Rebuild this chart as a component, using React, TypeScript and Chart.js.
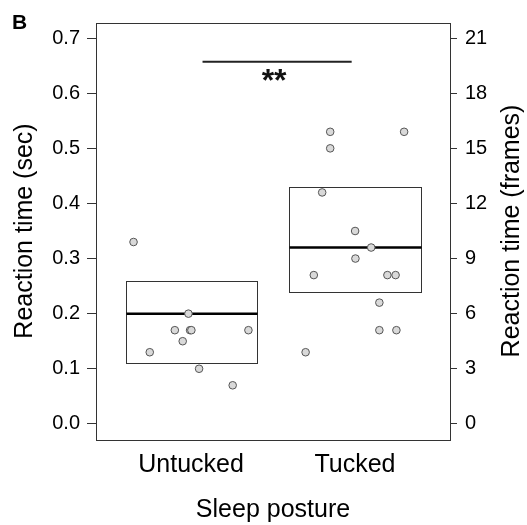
import React, { useEffect, useRef } from "react";
import { Chart, registerables } from "chart.js";

Chart.register(...registerables);

// ---------- data ----------
const categories = ["Untucked", "Tucked"];
const categoryPositions = [1, 2];

// jittered x positions and reaction times (sec)
const untuckedX = [0.649, 0.984, 0.901, 0.994, 1.002, 1.35, 0.949, 0.748, 1.049, 1.254];
const untuckedY = [0.33, 0.2, 0.17, 0.17, 0.17, 0.17, 0.15, 0.13, 0.1, 0.07];

const tuckedX = [1.849, 2.3, 1.849, 1.8, 2.001, 2.099, 2.003, 1.749, 2.198, 2.248, 2.149, 2.149, 2.253, 1.699];
const tuckedY = [0.53, 0.53, 0.5, 0.42, 0.35, 0.32, 0.3, 0.27, 0.27, 0.27, 0.22, 0.17, 0.17, 0.13];

// box summaries per category
const boxLower = [0.11, 0.24];
const boxMedian = [0.2, 0.32];
const boxUpper = [0.26, 0.43];

// axis ticks
const secTicks = [0, 0.1, 0.2, 0.3, 0.4, 0.5, 0.6, 0.7];
const frameTicks = [0, 3, 6, 9, 12, 15, 18, 21];
const framesPerSecond = 30;

// significance bracket
const sigFromTo = [1.07, 1.98];
const sigLevel = [0.657];
const sigLabel = "**";

const panelLabel = "B";
const ySecTitle = "Reaction time (sec)";
const yFrameTitle = "Reaction time (frames)";
const xTitle = "Sleep posture";

// ---------- config ----------
const FONT = "'Liberation Sans', Arial, Helvetica, sans-serif";
const Y_MIN = -0.028;
const Y_MAX = 0.728;
const X_MIN = 0.42;
const X_MAX = 2.58;
const BOX_HALF = 0.4;

const boxPlugin = {
  id: "boxes",
  beforeDatasetsDraw(chart: any) {
    const { ctx, scales, chartArea } = chart;
    const x = scales.x;
    const y = scales.y;
    ctx.save();
    // frame
    ctx.strokeStyle = "#333";
    ctx.lineWidth = 1;
    ctx.strokeRect(
      Math.round(chartArea.left) + 0.5,
      Math.round(chartArea.top) + 0.5,
      Math.round(chartArea.right - chartArea.left),
      Math.round(chartArea.bottom - chartArea.top)
    );
    categoryPositions.forEach((c, i) => {
      const l = Math.round(x.getPixelForValue(c - BOX_HALF)) + 0.5;
      const r = Math.round(x.getPixelForValue(c + BOX_HALF)) + 0.5;
      const t = Math.round(y.getPixelForValue(boxUpper[i])) + 0.5;
      const b = Math.round(y.getPixelForValue(boxLower[i])) + 0.5;
      ctx.fillStyle = "#ffffff";
      ctx.fillRect(l, t, r - l, b - t);
      ctx.strokeStyle = "#333";
      ctx.lineWidth = 1;
      ctx.strokeRect(l, t, r - l, b - t);
      const m = y.getPixelForValue(boxMedian[i]);
      ctx.strokeStyle = "#000";
      ctx.lineWidth = 2.5;
      ctx.beginPath();
      ctx.moveTo(l, m);
      ctx.lineTo(r, m);
      ctx.stroke();
    });
    // significance bar
    const sy = y.getPixelForValue(sigLevel[0]);
    const sx1 = x.getPixelForValue(sigFromTo[0]);
    const sx2 = x.getPixelForValue(sigFromTo[1]);
    ctx.strokeStyle = "#222";
    ctx.lineWidth = 2;
    ctx.beginPath();
    ctx.moveTo(sx1, sy);
    ctx.lineTo(sx2, sy);
    ctx.stroke();
    ctx.fillStyle = "#111";
    ctx.font = `bold 32px ${FONT}`;
    ctx.textAlign = "center";
    ctx.textBaseline = "alphabetic";
    ctx.fillText(sigLabel, (sx1 + sx2) / 2 - 3, sy + 29);
    ctx.restore();
  },
  afterDraw(chart: any) {
    const { ctx, chartArea } = chart;
    ctx.save();
    ctx.fillStyle = "#000";
    ctx.font = `bold 21px ${FONT}`;
    ctx.textAlign = "left";
    ctx.textBaseline = "alphabetic";
    ctx.fillText(panelLabel, 12, 28.5);
    // right axis title reading bottom-to-top
    const cy = (chartArea.top + chartArea.bottom) / 2;
    ctx.translate(512, cy);
    ctx.rotate(-Math.PI / 2);
    ctx.font = `25px ${FONT}`;
    ctx.textAlign = "center";
    ctx.textBaseline = "middle";
    ctx.fillText(yFrameTitle, 0, 0);
    ctx.restore();
  },
};

export default function App() {
  const ref = useRef<HTMLCanvasElement | null>(null);

  useEffect(() => {
    if (!ref.current) return;
    const pointStyle = {
      pointRadius: 3.8,
      pointBackgroundColor: "#d9d9d9",
      pointBorderColor: "#555",
      pointBorderWidth: 1,
      showLine: false,
    };
    const chart = new Chart(ref.current, {
      type: "scatter",
      data: {
        datasets: [
          {
            label: categories[0],
            data: untuckedX.map((v, i) => ({ x: v, y: untuckedY[i] })),
            ...pointStyle,
          },
          {
            label: categories[1],
            data: tuckedX.map((v, i) => ({ x: v, y: tuckedY[i] })),
            ...pointStyle,
          },
        ],
      },
      options: {
        responsive: false,
        animation: false,
        devicePixelRatio: 1,
        layout: { padding: { top: 22.7, left: 0, right: 0, bottom: 0 } },
        plugins: {
          legend: { display: false },
          tooltip: { enabled: false },
        },
        scales: {
          x: {
            type: "linear",
            min: X_MIN,
            max: X_MAX,
            afterBuildTicks: (s: any) => {
              s.ticks = categoryPositions.map((v) => ({ value: v }));
            },
            afterFit: (s: any) => {
              s.height = 85.7;
            },
            ticks: {
              callback: (v: any) => categories[Math.round(Number(v)) - 1],
              font: { family: FONT, size: 25 },
              color: "#000",
              padding: 3,
              autoSkip: false,
              maxRotation: 0,
            },
            grid: { display: false },
            border: { display: false },
            title: {
              display: true,
              text: xTitle,
              font: { family: FONT, size: 25 },
              color: "#000",
              padding: { top: 0, bottom: 0 },
            },
          },
          y: {
            type: "linear",
            position: "left",
            min: Y_MIN,
            max: Y_MAX,
            afterBuildTicks: (s: any) => {
              s.ticks = secTicks.map((v) => ({ value: v }));
            },
            afterFit: (s: any) => {
              s.width = 96;
            },
            ticks: {
              callback: (v: any) => Number(v).toFixed(1),
              font: { family: FONT, size: 20 },
              color: "#000",
              padding: 7,
            },
            grid: {
              display: true,
              drawOnChartArea: false,
              drawTicks: true,
              tickLength: 9,
              tickColor: "#333",
            },
            border: { display: false },
            title: {
              display: true,
              text: ySecTitle,
              font: { family: FONT, size: 25 },
              color: "#000",
              padding: { top: 10, bottom: 0 },
            },
          },
          y2: {
            type: "linear",
            position: "right",
            min: Y_MIN * framesPerSecond,
            max: Y_MAX * framesPerSecond,
            afterBuildTicks: (s: any) => {
              s.ticks = frameTicks.map((v) => ({ value: v }));
            },
            afterFit: (s: any) => {
              s.width = 77;
            },
            ticks: {
              callback: (v: any) => String(v),
              font: { family: FONT, size: 20 },
              color: "#000",
              padding: 8,
            },
            grid: {
              display: true,
              drawOnChartArea: false,
              drawTicks: true,
              tickLength: 7,
              tickColor: "#333",
            },
            border: { display: false },
          },
        },
      },
      plugins: [boxPlugin],
    } as any);
    return () => chart.destroy();
  }, []);

  return (
    <div style={{ position: "fixed", left: 0, top: 0, width: 527, height: 525, background: "#fff" }}>
      <canvas ref={ref} width={527} height={525} style={{ display: "block" }} />
    </div>
  );
}
